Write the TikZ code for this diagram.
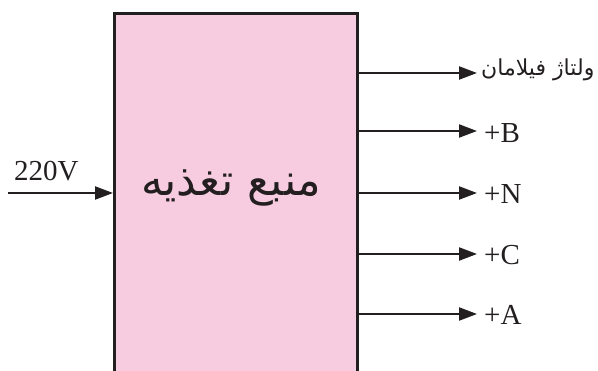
\documentclass[tikz,border=0pt]{standalone}
\usepackage{fontspec}
\setmainfont{Liberation Serif}
\newfontfamily\arabicfont[Script=Arabic]{DejaVu Sans}
\TeXXeTstate=1
\usetikzlibrary{arrows.meta}
\definecolor{boxpink}{RGB}{247,204,224}
\definecolor{ink}{RGB}{35,31,32}
\begin{document}
\begin{tikzpicture}[x=1pt,y=-1pt,
  arr/.style={draw=ink, line width=2.2pt, -{Triangle[length=18pt,width=13pt]}},
  lbl/.style={anchor=west, inner xsep=7pt, inner ysep=0pt, font=\fontsize{29}{30}\selectfont, text=ink},
  arlbl/.style={anchor=west, inner xsep=4pt, inner ysep=0pt, font=\arabicfont\fontsize{22}{26}\selectfont, text=ink}]
\useasboundingbox (0,0) rectangle (598,371);
\clip (0,0) rectangle (598,371);
\node[draw=ink, fill=boxpink, line width=2.6pt, minimum width=243pt, minimum height=420pt, anchor=north west, inner sep=0pt] (box) at (113,12) {};
\node[font=\arabicfont\fontsize{44}{50}\selectfont, text=ink] (title) at (231,188) {\beginR منبع تغذیه\endR};
\node[arlbl] (fil) at (477,70) {\beginR ولتاژ فیلامان\endR};
\node[lbl] (pb) at (477,133) {+B};
\node[lbl] (pn) at (477,194) {+N};
\node[lbl] (pc) at (477,255) {+C};
\node[lbl] (pa) at (477,315) {+A};
\draw[arr] (box.east |- 0,73) -- (fil.west |- 0,73);
\draw[arr] (box.east |- 0,131) -- (pb.west |- 0,131);
\draw[arr] (box.east |- 0,193) -- (pn.west |- 0,193);
\draw[arr] (box.east |- 0,254) -- (pc.west |- 0,254);
\draw[arr] (box.east |- 0,314) -- (pa.west |- 0,314);
\coordinate (src) at (8,193);
\draw[arr] (src) -- (src -| box.west);
\node[anchor=base west, inner sep=0pt, font=\fontsize{29}{30}\selectfont, text=ink] (v) at (14,181) {220V};
\end{tikzpicture}
\end{document}
